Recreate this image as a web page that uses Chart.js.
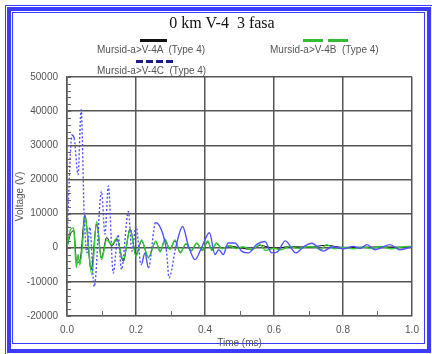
<!DOCTYPE html>
<html>
<head>
<meta charset="utf-8">
<script src="https://cdn.jsdelivr.net/npm/chart.js@4.4.1/dist/chart.umd.min.js"></script>
<style>
  html, body { margin: 0; padding: 0; background: #fff; }
  #wrap { position: relative; width: 432px; height: 354px; overflow: hidden; font-family: "Liberation Sans", Arial, sans-serif; }
  .frame { position: absolute; box-sizing: border-box; border-style: solid; border-color: #3b3bff; }
  #f1 { left: 5px; top: 5px; width: 428px; height: 350px; border-width: 1px; }
  #f2 { left: 7px; top: 7px; width: 424px; height: 346px; border-width: 4px; }
  #f3 { left: 12px; top: 12px; width: 413px; height: 332px; border-width: 1px; }
  canvas { position: absolute; left: 0; top: 0; }
  #title { position: absolute; left: 0; width: 444px; top: 14px; text-align: center; white-space: pre;
           font-family: "Liberation Serif", "Times New Roman", serif; font-size: 16px; color: #111; }
  .lg { position: absolute; font-size: 10px; color: #555; white-space: pre; }
  .sw { position: absolute; height: 3px; }
</style>
</head>
<body>
<div id="wrap">
  <div class="frame" id="f1"></div>
  <div class="frame" id="f2"></div>
  <div class="frame" id="f3"></div>
  <canvas id="chart" width="432" height="354"></canvas>
  <div id="title">0 km V-4  3 fasa</div>
  <div class="sw" style="left:140px;top:39px;width:27px;background:#111;"></div>
  <div class="lg" style="left:97px;top:44px;">Mursid-a&gt;V-4A  (Type 4)</div>
  <div class="sw" style="left:303px;top:39px;width:20px;background:#33bb33;"></div>
  <div class="sw" style="left:328px;top:39px;width:20px;background:#33bb33;"></div>
  <div class="lg" style="left:270px;top:44px;">Mursid-a&gt;V-4B  (Type 4)</div>
  <div class="sw" style="left:136px;top:60px;width:7px;background:#1c1c8a;"></div>
  <div class="sw" style="left:146px;top:60px;width:7px;background:#1c1c8a;"></div>
  <div class="sw" style="left:156px;top:60px;width:7px;background:#1c1c8a;"></div>
  <div class="sw" style="left:166px;top:60px;width:7px;background:#1c1c8a;"></div>
  <div class="lg" style="left:97px;top:65px;">Mursid-a&gt;V-4C  (Type 4)</div>
</div>
<script>
// tick labels
const yTicks = [-20000, -10000, 0, 10000, 20000, 30000, 40000, 50000];
const xTicks = [0.0, 0.2, 0.4, 0.6, 0.8, 1.0];

// Mursid-a>V-4A (black, mostly hidden under the others)
const tA = [0, 0.01, 0.02, 0.028, 0.038, 0.052, 0.07, 0.086, 0.1, 0.115, 0.13, 0.145, 0.163, 0.183, 0.2, 0.216, 0.236, 0.257, 0.27, 0.284,
            0.298, 0.313, 0.328, 0.345, 0.36, 0.376, 0.392, 0.408, 0.42, 0.433, 0.45, 0.47, 0.5, 0.535, 0.56, 0.6, 0.645, 0.7, 0.752, 0.8,
            0.86, 0.91, 0.97, 1.0];
const vA = [0, 4000, 5000, -4500, -3500, 9500, -6500, 7000, -3000, 3000, 500, 2500, -4000, 5500, -2000, 2000, -2800, 1800, -1000, 2200,
            -400, 2000, -1300, 1000, -800, 1200, -700, 1700, -600, 1200, -200, 500, 0, -500, 700, -200, 300, 200, 700, 100,
            150, 250, 150, 300];

// Mursid-a>V-4B (green)
const tB = [0, 0.01, 0.019, 0.027, 0.032, 0.037, 0.045, 0.052, 0.06, 0.072, 0.086, 0.1, 0.115, 0.13, 0.144, 0.163, 0.183, 0.2, 0.216, 0.236,
            0.257, 0.27, 0.284, 0.298, 0.313, 0.328, 0.345, 0.36, 0.376, 0.392, 0.408, 0.42, 0.433, 0.45, 0.47, 0.49, 0.51, 0.535, 0.56, 0.575,
            0.6, 0.62, 0.645, 0.67, 0.7, 0.72, 0.735, 0.752, 0.775, 0.8, 0.83, 0.86, 0.88, 0.91, 0.94, 0.97, 1.0];
const vB = [0, 5300, 5800, -5800, -2000, -5000, 1000, 9200, 3000, -7900, 7700, -3500, 2300, 900, 2800, -3500, 5300, -2500, 2300, -3000,
            1900, -1200, 2500, -500, 2300, -1500, 1200, -1000, 1400, -800, 2000, -800, 1400, -300, 600, -200, 300, -600, 900, -800,
            -200, -600, 400, -200, 300, 200, -600, 900, -300, 100, -300, 200, -200, 300, -300, 200, 400];

// Mursid-a>V-4C (blue, dashed)
const tC = [0, 0.005, 0.0145, 0.021, 0.032, 0.041, 0.05, 0.058, 0.066, 0.079, 0.1, 0.11, 0.12, 0.134, 0.148, 0.158, 0.178, 0.188, 0.2, 0.215,
            0.226, 0.236, 0.257, 0.278, 0.288, 0.296, 0.315, 0.335, 0.352, 0.371, 0.39, 0.413, 0.429, 0.44, 0.453, 0.467, 0.487, 0.506, 0.526, 0.55,
            0.574, 0.593, 0.61, 0.633, 0.663, 0.685, 0.709, 0.743, 0.77, 0.8, 0.83, 0.85, 0.869, 0.893, 0.915, 0.936, 0.965, 1.0];
const vC = [0, 16000, 33000, 32000, 21400, 40400, 9000, -1500, 6000, -11400, 16500, 4000, 18100, -7400, 3800, -6400, 10600, -1000, 6200, -5000,
            -1500, -5900, 7400, 4000, -600, -8800, 0, 6200, 500, -3500, 0, 4400, -2000, -600, -2000, 1400, 1400, -1000, -1500, 1000,
            1800, -1500, -1200, 2000, -1500, 200, 1300, -1000, 300, -300, 400, -200, 900, -600, 200, 900, -600, 300];

const pts = (ts, vs) => ts.map((t, i) => ({ x: t, y: vs[i] }));

// kleine Striche innen an den Achsen
const minorTicks = {
    id: 'minorTicks',
    afterDatasetsDraw(chart) {
        const { ctx, chartArea, scales: { x, y } } = chart;
        ctx.save();
        ctx.strokeStyle = '#666';
        ctx.lineWidth = 1;
        ctx.beginPath();
        for (let v = -20000; v <= 50000; v += 2000) {
            const py = Math.round(y.getPixelForValue(v)) + 0.5;
            ctx.moveTo(chartArea.left, py);
            ctx.lineTo(chartArea.left + 4, py);
        }
        for (let v = 0.1; v < 1; v += 0.2) {
            const px = Math.round(x.getPixelForValue(v)) + 0.5;
            ctx.moveTo(px, chartArea.bottom);
            ctx.lineTo(px, chartArea.bottom - 5);
        }
        ctx.stroke();
        ctx.restore();
    }
};

const tickFont = { family: "'Liberation Sans', Arial, sans-serif", size: 10 };

new Chart(document.getElementById('chart'), {
    type: 'line',
    data: {
        datasets: [
            {
                label: 'Mursid-a>V-4A  (Type 4)',
                data: pts(tA, vA),
                borderColor: '#111',
                borderWidth: 1,
                order: 3
            },
            {
                label: 'Mursid-a>V-4B  (Type 4)',
                data: pts(tB, vB),
                borderColor: '#33cc33',
                borderWidth: 1.4,
                order: 2
            },
            {
                label: 'Mursid-a>V-4C  (Type 4)',
                data: pts(tC, vC),
                borderColor: '#5252ff',
                borderWidth: 1.4,
                order: 1,
                segment: {
                    // steile Abschnitte gestrichelt, flache durchgezogen
                    borderDash: c => Math.abs(c.p1.y - c.p0.y) > 24 ? [2, 2] : undefined
                }
            }
        ]
    },
    options: {
        responsive: false,
        animation: false,
        devicePixelRatio: 1,
        layout: { padding: { top: 77, right: 20, left: 0, bottom: 0 } },
        elements: {
            point: { radius: 0 },
            line: { cubicInterpolationMode: 'monotone', fill: false }
        },
        plugins: { legend: { display: false }, tooltip: { enabled: false } },
        scales: {
            x: {
                type: 'linear',
                min: 0, max: 1,
                afterBuildTicks: s => { s.ticks = xTicks.map(v => ({ value: v })); },
                afterFit: s => { s.height = 38; },
                grid: { color: '#555', lineWidth: 1.5, drawTicks: false },
                border: { color: '#999', width: 1 },
                ticks: { font: tickFont, color: '#555', padding: 8, callback: v => v.toFixed(1) },
                title: { display: true, text: 'Time (ms)', font: tickFont, color: '#555', padding: { top: 0, bottom: 5 } }
            },
            y: {
                min: -20000, max: 50000,
                afterBuildTicks: s => { s.ticks = yTicks.map(v => ({ value: v })); },
                afterFit: s => { s.width = 67; },
                grid: { color: '#555', lineWidth: 1.5, drawTicks: false },
                border: { color: '#555', width: 1.5 },
                ticks: { font: tickFont, color: '#555', padding: 9, callback: v => String(v) },
                title: { display: true, text: 'Voltage (V)', font: tickFont, color: '#555', padding: { top: 14, bottom: 0 } }
            }
        }
    },
    plugins: [minorTicks]
});
</script>
</body>
</html>
